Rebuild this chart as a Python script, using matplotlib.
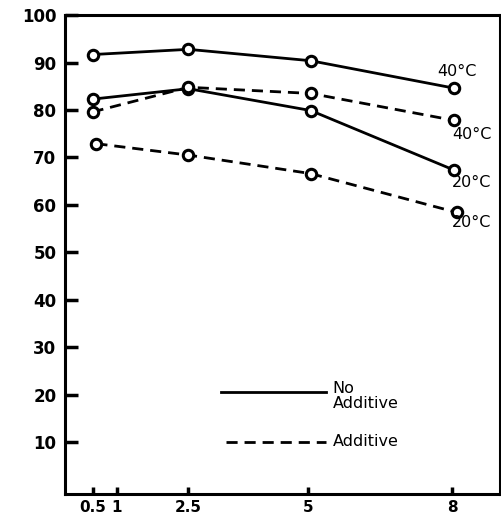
import numpy as np
import matplotlib.pyplot as plt

# time points (x axis)
x_pts = [0.5, 2.5, 5.05, 8.05]
x_pts_add20 = [0.58, 2.5, 5.05, 8.1]
xtick_vals = [0.5, 1, 2.5, 5, 8]
xtick_labels = ['0.5', '1', '2.5', '5', '8']
ytick_vals = [10, 20, 30, 40, 50, 60, 70, 80, 90, 100]

# no additive (solid)
noadd_40 = [91.7, 92.8, 90.4, 84.6]
noadd_20 = [82.3, 84.5, 79.9, 67.3]
# additive (dashed)
add_40 = [79.6, 84.8, 83.5, 77.8]
add_20 = [72.9, 70.5, 66.6, 58.4]

fig = plt.figure(figsize=(5.02, 5.24), dpi=100)
ax = fig.add_axes([0.129, 0.057, 0.867, 0.914])

mk = dict(marker='o', markersize=7.5, markerfacecolor='white',
          markeredgecolor='black', markeredgewidth=2.2, color='black', lw=2)
ax.plot(x_pts, noadd_40, '-', **mk)
ax.plot(x_pts, noadd_20, '-', **mk)
ax.plot(x_pts, add_40, '--', dashes=(4, 2.5), **mk)
ax.plot(x_pts_add20, add_20, '--', dashes=(4, 2.5), **mk)

# curve labels
tkw = dict(fontsize=11.5, color='black', ha='left', va='center')
ax.text(7.7, 88.2, '40°C', **tkw)
ax.text(8.0, 74.9, '40°C', **tkw)
ax.text(8.0, 64.8, '20°C', **tkw)
ax.text(8.0, 56.2, '20°C', **tkw)

# legend drawn by hand
ax.plot([0.36, 0.60], [0.213, 0.213], '-', color='black', lw=2,
        transform=ax.transAxes)
ax.plot([0.37, 0.60], [0.109, 0.109], '--', dashes=(4, 2.5), color='black',
        lw=2, transform=ax.transAxes)
ax.text(0.615, 0.205, 'No\nAdditive', transform=ax.transAxes,
        fontsize=11.5, va='center', ha='left', linespacing=1.05)
ax.text(0.615, 0.109, 'Additive', transform=ax.transAxes,
        fontsize=11.5, va='center', ha='left')

ax.set_xlim(-0.08, 9)
ax.set_ylim(-1, 100)
ax.set_xticks(xtick_vals)
ax.set_xticklabels(xtick_labels, fontsize=11, fontweight='bold')
ax.set_yticks(ytick_vals)
ax.set_yticklabels([str(v) for v in ytick_vals], fontsize=12, fontweight='bold')
ax.tick_params(axis='y', direction='in', length=9, width=2.5, pad=6)
ax.tick_params(axis='x', direction='in', length=5, width=2.5, pad=4)
for s in ax.spines.values():
    s.set_linewidth(2.2)

fig.savefig('out.png', dpi=100)
